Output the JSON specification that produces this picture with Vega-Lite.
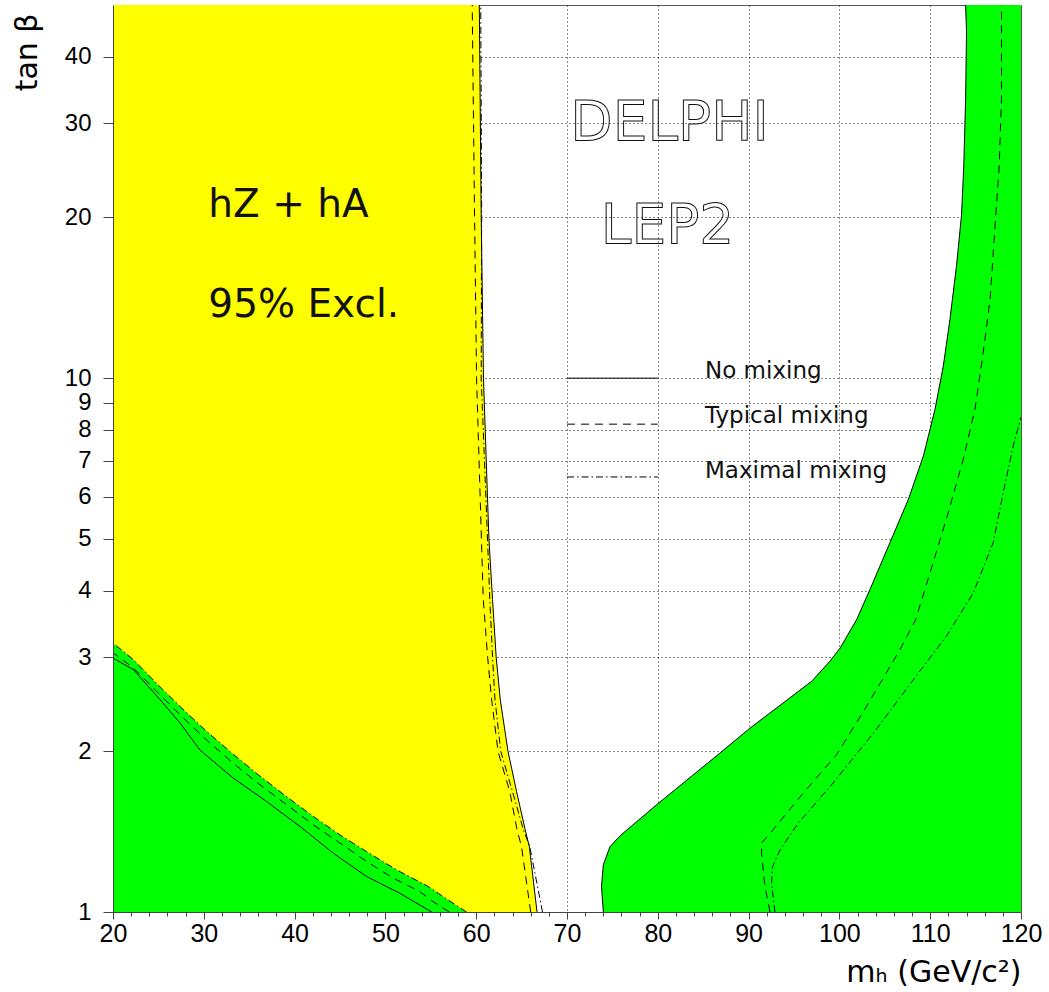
{
  "$schema": "https://vega.github.io/schema/vega-lite/v6.json",
  "width": 908,
  "height": 907,
  "autosize": {"type": "none"},
  "padding": {"left": 113, "top": 5, "right": 28, "bottom": 80},
  "background": "white",
  "config": {"view": {"stroke": "#555", "strokeWidth": 1}},
  "datasets": {
    "curves": [
      {"part": "left", "mix": "No mixing", "x": 20, "t": 2.99},
      {"part": "left", "mix": "No mixing", "x": 22.24, "t": 2.845},
      {"part": "left", "mix": "No mixing", "x": 25.18, "t": 2.5},
      {"part": "left", "mix": "No mixing", "x": 27.38, "t": 2.26},
      {"part": "left", "mix": "No mixing", "x": 29.58, "t": 2.01},
      {"part": "left", "mix": "No mixing", "x": 33.24, "t": 1.782},
      {"part": "left", "mix": "No mixing", "x": 36.9, "t": 1.611},
      {"part": "left", "mix": "No mixing", "x": 40.6, "t": 1.446},
      {"part": "left", "mix": "No mixing", "x": 44.26, "t": 1.289},
      {"part": "left", "mix": "No mixing", "x": 47.94, "t": 1.165},
      {"part": "left", "mix": "No mixing", "x": 51.6, "t": 1.084},
      {"part": "left", "mix": "No mixing", "x": 55.09, "t": 1.0},
      {"part": "left", "mix": "Typical mixing", "x": 20, "t": 3.06},
      {"part": "left", "mix": "Typical mixing", "x": 22.24, "t": 2.865},
      {"part": "left", "mix": "Typical mixing", "x": 24.8, "t": 2.59},
      {"part": "left", "mix": "Typical mixing", "x": 27.56, "t": 2.325},
      {"part": "left", "mix": "Typical mixing", "x": 30.3, "t": 2.1},
      {"part": "left", "mix": "Typical mixing", "x": 33.24, "t": 1.9},
      {"part": "left", "mix": "Typical mixing", "x": 36.19, "t": 1.731},
      {"part": "left", "mix": "Typical mixing", "x": 39.13, "t": 1.588},
      {"part": "left", "mix": "Typical mixing", "x": 42.06, "t": 1.456},
      {"part": "left", "mix": "Typical mixing", "x": 45, "t": 1.346},
      {"part": "left", "mix": "Typical mixing", "x": 47.94, "t": 1.243},
      {"part": "left", "mix": "Typical mixing", "x": 50.87, "t": 1.157},
      {"part": "left", "mix": "Typical mixing", "x": 53.8, "t": 1.092},
      {"part": "left", "mix": "Typical mixing", "x": 55.27, "t": 1.045},
      {"part": "left", "mix": "Typical mixing", "x": 57.04, "t": 1.0},
      {"part": "left", "mix": "Maximal mixing", "x": 20, "t": 3.19},
      {"part": "left", "mix": "Maximal mixing", "x": 22.24, "t": 2.97},
      {"part": "left", "mix": "Maximal mixing", "x": 24.8, "t": 2.68},
      {"part": "left", "mix": "Maximal mixing", "x": 27.56, "t": 2.41},
      {"part": "left", "mix": "Maximal mixing", "x": 30.3, "t": 2.18},
      {"part": "left", "mix": "Maximal mixing", "x": 33.07, "t": 1.985},
      {"part": "left", "mix": "Maximal mixing", "x": 36, "t": 1.807},
      {"part": "left", "mix": "Maximal mixing", "x": 38.94, "t": 1.653},
      {"part": "left", "mix": "Maximal mixing", "x": 42.06, "t": 1.51},
      {"part": "left", "mix": "Maximal mixing", "x": 45, "t": 1.394},
      {"part": "left", "mix": "Maximal mixing", "x": 47.94, "t": 1.297},
      {"part": "left", "mix": "Maximal mixing", "x": 51.24, "t": 1.199},
      {"part": "left", "mix": "Maximal mixing", "x": 54.73, "t": 1.116},
      {"part": "left", "mix": "Maximal mixing", "x": 56.38, "t": 1.068},
      {"part": "left", "mix": "Maximal mixing", "x": 58.03, "t": 1.023},
      {"part": "left", "mix": "Maximal mixing", "x": 58.94, "t": 1.0},
      {"part": "mid", "mix": "No mixing", "x": 60.34, "t": 50},
      {"part": "mid", "mix": "No mixing", "x": 60.55, "t": 20.2},
      {"part": "mid", "mix": "No mixing", "x": 60.8, "t": 10},
      {"part": "mid", "mix": "No mixing", "x": 61.4, "t": 5},
      {"part": "mid", "mix": "No mixing", "x": 61.8, "t": 3.85},
      {"part": "mid", "mix": "No mixing", "x": 62.2, "t": 3},
      {"part": "mid", "mix": "No mixing", "x": 62.65, "t": 2.5},
      {"part": "mid", "mix": "No mixing", "x": 63.5, "t": 2},
      {"part": "mid", "mix": "No mixing", "x": 64.45, "t": 1.68},
      {"part": "mid", "mix": "No mixing", "x": 65.4, "t": 1.425},
      {"part": "mid", "mix": "No mixing", "x": 65.85, "t": 1.326},
      {"part": "mid", "mix": "No mixing", "x": 66.7, "t": 1},
      {"part": "mid", "mix": "Typical mixing", "x": 59.56, "t": 50},
      {"part": "mid", "mix": "Typical mixing", "x": 59.82, "t": 20.2},
      {"part": "mid", "mix": "Typical mixing", "x": 60.04, "t": 10},
      {"part": "mid", "mix": "Typical mixing", "x": 60.5, "t": 5.5},
      {"part": "mid", "mix": "Typical mixing", "x": 60.78, "t": 3.85},
      {"part": "mid", "mix": "Typical mixing", "x": 61.26, "t": 3},
      {"part": "mid", "mix": "Typical mixing", "x": 61.7, "t": 2.5},
      {"part": "mid", "mix": "Typical mixing", "x": 62.4, "t": 2},
      {"part": "mid", "mix": "Typical mixing", "x": 63.7, "t": 1.68},
      {"part": "mid", "mix": "Typical mixing", "x": 64.5, "t": 1.425},
      {"part": "mid", "mix": "Typical mixing", "x": 64.99, "t": 1.326},
      {"part": "mid", "mix": "Typical mixing", "x": 66, "t": 1},
      {"part": "mid", "mix": "Maximal mixing", "x": 60.5, "t": 50},
      {"part": "mid", "mix": "Maximal mixing", "x": 60.6, "t": 20.2},
      {"part": "mid", "mix": "Maximal mixing", "x": 60.55, "t": 10},
      {"part": "mid", "mix": "Maximal mixing", "x": 61.15, "t": 5.5},
      {"part": "mid", "mix": "Maximal mixing", "x": 61.5, "t": 3.85},
      {"part": "mid", "mix": "Maximal mixing", "x": 61.8, "t": 3},
      {"part": "mid", "mix": "Maximal mixing", "x": 62.07, "t": 2.5},
      {"part": "mid", "mix": "Maximal mixing", "x": 62.7, "t": 2},
      {"part": "mid", "mix": "Maximal mixing", "x": 64, "t": 1.68},
      {"part": "mid", "mix": "Maximal mixing", "x": 65.2, "t": 1.425},
      {"part": "mid", "mix": "Maximal mixing", "x": 65.9, "t": 1.326},
      {"part": "mid", "mix": "Maximal mixing", "x": 67.3, "t": 1},
      {"part": "right", "mix": "No mixing", "x": 74.0, "t": 1.0},
      {"part": "right", "mix": "No mixing", "x": 73.8, "t": 1.116},
      {"part": "right", "mix": "No mixing", "x": 74.0, "t": 1.225},
      {"part": "right", "mix": "No mixing", "x": 74.74, "t": 1.326},
      {"part": "right", "mix": "No mixing", "x": 75.84, "t": 1.389},
      {"part": "right", "mix": "No mixing", "x": 79.87, "t": 1.588},
      {"part": "right", "mix": "No mixing", "x": 86.85, "t": 1.985},
      {"part": "right", "mix": "No mixing", "x": 90.15, "t": 2.21},
      {"part": "right", "mix": "No mixing", "x": 96.95, "t": 2.705},
      {"part": "right", "mix": "No mixing", "x": 98.96, "t": 2.95},
      {"part": "right", "mix": "No mixing", "x": 100.07, "t": 3.12},
      {"part": "right", "mix": "No mixing", "x": 101.9, "t": 3.53},
      {"part": "right", "mix": "No mixing", "x": 103.37, "t": 4.02},
      {"part": "right", "mix": "No mixing", "x": 105.57, "t": 4.92},
      {"part": "right", "mix": "No mixing", "x": 107.6, "t": 5.93},
      {"part": "right", "mix": "No mixing", "x": 109.25, "t": 7.15},
      {"part": "right", "mix": "No mixing", "x": 110.53, "t": 8.74},
      {"part": "right", "mix": "No mixing", "x": 111.45, "t": 10.55},
      {"part": "right", "mix": "No mixing", "x": 112.18, "t": 12.9},
      {"part": "right", "mix": "No mixing", "x": 112.9, "t": 16.25},
      {"part": "right", "mix": "No mixing", "x": 113.45, "t": 20.2},
      {"part": "right", "mix": "No mixing", "x": 113.7, "t": 25.0},
      {"part": "right", "mix": "No mixing", "x": 113.9, "t": 33.4},
      {"part": "right", "mix": "No mixing", "x": 114.0, "t": 44.5},
      {"part": "right", "mix": "No mixing", "x": 113.9, "t": 50},
      {"part": "right", "mix": "Typical mixing", "x": 92.36, "t": 1.0},
      {"part": "right", "mix": "Typical mixing", "x": 91.8, "t": 1.116},
      {"part": "right", "mix": "Typical mixing", "x": 91.43, "t": 1.289},
      {"part": "right", "mix": "Typical mixing", "x": 91.43, "t": 1.346},
      {"part": "right", "mix": "Typical mixing", "x": 92.53, "t": 1.415},
      {"part": "right", "mix": "Typical mixing", "x": 96.02, "t": 1.67},
      {"part": "right", "mix": "Typical mixing", "x": 99.69, "t": 1.971},
      {"part": "right", "mix": "Typical mixing", "x": 102.99, "t": 2.428},
      {"part": "right", "mix": "Typical mixing", "x": 106.67, "t": 3.1},
      {"part": "right", "mix": "Typical mixing", "x": 108.4, "t": 3.53},
      {"part": "right", "mix": "Typical mixing", "x": 109.98, "t": 4.32},
      {"part": "right", "mix": "Typical mixing", "x": 111.99, "t": 5.6},
      {"part": "right", "mix": "Typical mixing", "x": 113.64, "t": 7.05},
      {"part": "right", "mix": "Typical mixing", "x": 114.93, "t": 8.74},
      {"part": "right", "mix": "Typical mixing", "x": 115.84, "t": 11.17},
      {"part": "right", "mix": "Typical mixing", "x": 116.6, "t": 14.07},
      {"part": "right", "mix": "Typical mixing", "x": 117.1, "t": 18.8},
      {"part": "right", "mix": "Typical mixing", "x": 117.6, "t": 25.0},
      {"part": "right", "mix": "Typical mixing", "x": 117.85, "t": 33.4},
      {"part": "right", "mix": "Typical mixing", "x": 117.85, "t": 50},
      {"part": "right", "mix": "Maximal mixing", "x": 92.9, "t": 1.0},
      {"part": "right", "mix": "Maximal mixing", "x": 92.53, "t": 1.132},
      {"part": "right", "mix": "Maximal mixing", "x": 92.64, "t": 1.216},
      {"part": "right", "mix": "Maximal mixing", "x": 93.45, "t": 1.307},
      {"part": "right", "mix": "Maximal mixing", "x": 95.47, "t": 1.467},
      {"part": "right", "mix": "Maximal mixing", "x": 99.14, "t": 1.731},
      {"part": "right", "mix": "Maximal mixing", "x": 103.9, "t": 2.18},
      {"part": "right", "mix": "Maximal mixing", "x": 108.3, "t": 2.745},
      {"part": "right", "mix": "Maximal mixing", "x": 111.8, "t": 3.29},
      {"part": "right", "mix": "Maximal mixing", "x": 114.74, "t": 3.96},
      {"part": "right", "mix": "Maximal mixing", "x": 116.94, "t": 4.92},
      {"part": "right", "mix": "Maximal mixing", "x": 118.04, "t": 6.1},
      {"part": "right", "mix": "Maximal mixing", "x": 119.14, "t": 7.46},
      {"part": "right", "mix": "Maximal mixing", "x": 120, "t": 8.45},
      {"part": "legend", "mix": "No mixing", "x": 70, "t": 10},
      {"part": "legend", "mix": "No mixing", "x": 80, "t": 10},
      {"part": "legend", "mix": "Typical mixing", "x": 70, "t": 8.2},
      {"part": "legend", "mix": "Typical mixing", "x": 80, "t": 8.2},
      {"part": "legend", "mix": "Maximal mixing", "x": 70, "t": 6.53},
      {"part": "legend", "mix": "Maximal mixing", "x": 80, "t": 6.53}
    ],
    "notes": [
      {"kind": "big", "text": "DELPHI", "x": 81.3, "t": 27.96},
      {"kind": "big", "text": "LEP2", "x": 81.07, "t": 17.92},
      {"kind": "main", "text": "hZ + hA", "x": 30.5, "t": 20.02},
      {"kind": "main", "text": "95% Excl.", "x": 30.5, "t": 13.0},
      {"kind": "legend", "text": "No mixing", "x": 85.2, "t": 10.0},
      {"kind": "legend", "text": "Typical mixing", "x": 85.2, "t": 8.23},
      {"kind": "legend", "text": "Maximal mixing", "x": 85.2, "t": 6.51}
    ]
  },
  "layer": [
    {
      "data": {"name": "curves"},
      "transform": [{"filter": "datum.part === 'mid' && datum.mix === 'No mixing'"}],
      "mark": {"type": "area", "orient": "horizontal", "color": "#ffff00", "clip": true},
      "encoding": {
        "y": {"field": "t", "type": "quantitative", "stack": null,
          "scale": {"type": "log", "domain": [1, 50], "nice": false},
          "axis": {"orient": "left", "values": [2, 3, 4, 5, 6, 7, 8, 9, 10, 20, 30, 40], "grid": true, "gridDash": [1, 3], "gridColor": "#111", "gridWidth": 1, "domain": false, "ticks": false, "labels": false, "title": null, "zindex": 0}},
        "x": {"field": "x", "type": "quantitative", "stack": null,
          "scale": {"domain": [20, 120], "nice": false, "zero": false},
          "axis": {"orient": "bottom", "values": [30, 40, 50, 60, 70, 80, 90, 100, 110], "grid": true, "gridDash": [1, 3], "gridColor": "#111", "gridWidth": 1, "domain": false, "ticks": false, "labels": false, "title": null, "zindex": 0}},
        "x2": {"datum": 20}
      }
    },
    {
      "data": {"name": "curves"},
      "transform": [{"filter": "datum.part === 'left' && datum.mix === 'Maximal mixing'"}],
      "mark": {"type": "area", "orient": "vertical", "color": "#00ff00", "clip": true},
      "encoding": {
        "x": {"field": "x", "type": "quantitative", "stack": null, "axis": null},
        "y": {"field": "t", "type": "quantitative", "stack": null, "axis": null},
        "y2": {"datum": 1}
      }
    },
    {
      "data": {"name": "curves"},
      "transform": [{"filter": "datum.part === 'right' && datum.mix === 'No mixing'"}],
      "mark": {"type": "area", "orient": "horizontal", "color": "#00ff00", "clip": true},
      "encoding": {
        "y": {"field": "t", "type": "quantitative", "stack": null, "axis": null},
        "x": {"field": "x", "type": "quantitative", "stack": null, "axis": null},
        "x2": {"datum": 120}
      }
    },
    {
      "data": {"name": "curves"},
      "transform": [{"filter": "datum.mix === 'No mixing'"}],
      "mark": {"type": "line", "color": "black", "strokeWidth": 1, "clip": true},
      "encoding": {
        "x": {"field": "x", "type": "quantitative",
          "axis": {"orient": "bottom", "values": [20, 22, 24, 26, 28, 30, 32, 34, 36, 38, 40, 42, 44, 46, 48, 50, 52, 54, 56, 58, 60, 62, 64, 66, 68, 70, 72, 74, 76, 78, 80, 82, 84, 86, 88, 90, 92, 94, 96, 98, 100, 102, 104, 106, 108, 110, 112, 114, 116, 118, 120],
            "grid": false, "domain": true, "domainColor": "#444", "tickColor": "#444",
            "tickSize": {"condition": {"test": "datum.value % 10 === 0", "value": 7}, "value": 4},
            "labelExpr": "datum.value % 10 === 0 ? datum.label : ''",
            "labelFont": "Liberation Sans", "labelFontSize": 25, "labelColor": "black", "labelPadding": 2,
            "labelOverlap": false, "labelFlush": false,
            "title": "mₕ (GeV/c²)", "titleFont": "DejaVu Sans", "titleFontSize": 30, "titleFontWeight": "normal", "titleColor": "black",
            "titleAnchor": null, "titleAlign": "right", "titleBaseline": "alphabetic", "titleX": 908, "titleY": 69, "zindex": 1}},
        "y": {"field": "t", "type": "quantitative",
          "axis": {"orient": "left", "values": [1, 2, 3, 4, 5, 6, 7, 8, 9, 10, 20, 30, 40], "format": "d",
            "grid": false, "domain": true, "domainColor": "#444", "tickColor": "#444", "tickSize": 10,
            "labelFont": "Liberation Sans", "labelFontSize": 24, "labelColor": "black", "labelPadding": 12,
            "labelOverlap": false, "labelFlush": false,
            "title": "tan β", "titleFont": "DejaVu Sans", "titleFontSize": 30, "titleFontWeight": "normal", "titleColor": "black",
            "titleAngle": -90, "titleAnchor": null, "titleAlign": "right", "titleBaseline": "alphabetic", "titleX": -77, "titleY": 8, "zindex": 1}},
        "detail": {"field": "part"},
        "order": {"field": "t", "type": "quantitative"}
      }
    },
    {
      "data": {"name": "curves"},
      "transform": [{"filter": "datum.mix === 'Typical mixing'"}],
      "mark": {"type": "line", "color": "black", "strokeWidth": 1, "strokeDash": [8, 6], "clip": true},
      "encoding": {
        "x": {"field": "x", "type": "quantitative", "axis": null},
        "y": {"field": "t", "type": "quantitative", "axis": null},
        "detail": {"field": "part"},
        "order": {"field": "t", "type": "quantitative"}
      }
    },
    {
      "data": {"name": "curves"},
      "transform": [{"filter": "datum.mix === 'Maximal mixing'"}],
      "mark": {"type": "line", "color": "black", "strokeWidth": 1, "strokeDash": [7, 3, 1.5, 3], "clip": true},
      "encoding": {
        "x": {"field": "x", "type": "quantitative", "axis": null},
        "y": {"field": "t", "type": "quantitative", "axis": null},
        "detail": {"field": "part"},
        "order": {"field": "t", "type": "quantitative"}
      }
    },
    {
      "data": {"name": "notes"},
      "transform": [{"filter": "datum.kind === 'big'"}],
      "mark": {"type": "text", "font": "DejaVu Sans", "fontSize": 55, "align": "center", "baseline": "alphabetic", "fill": "white", "fillOpacity": 0, "stroke": "#111", "strokeWidth": 1},
      "encoding": {
        "x": {"field": "x", "type": "quantitative", "axis": null},
        "y": {"field": "t", "type": "quantitative", "axis": null},
        "text": {"field": "text"}
      }
    },
    {
      "data": {"name": "notes"},
      "transform": [{"filter": "datum.kind === 'main'"}],
      "mark": {"type": "text", "font": "DejaVu Sans", "fontSize": 39, "align": "left", "baseline": "alphabetic", "color": "#111"},
      "encoding": {
        "x": {"field": "x", "type": "quantitative", "axis": null},
        "y": {"field": "t", "type": "quantitative", "axis": null},
        "text": {"field": "text"}
      }
    },
    {
      "data": {"name": "notes"},
      "transform": [{"filter": "datum.kind === 'legend'"}],
      "mark": {"type": "text", "font": "DejaVu Sans", "fontSize": 23, "align": "left", "baseline": "alphabetic", "color": "#111"},
      "encoding": {
        "x": {"field": "x", "type": "quantitative", "axis": null},
        "y": {"field": "t", "type": "quantitative", "axis": null},
        "text": {"field": "text"}
      }
    }
  ],
  "resolve": {"axis": {"x": "independent", "y": "independent"}}
}
